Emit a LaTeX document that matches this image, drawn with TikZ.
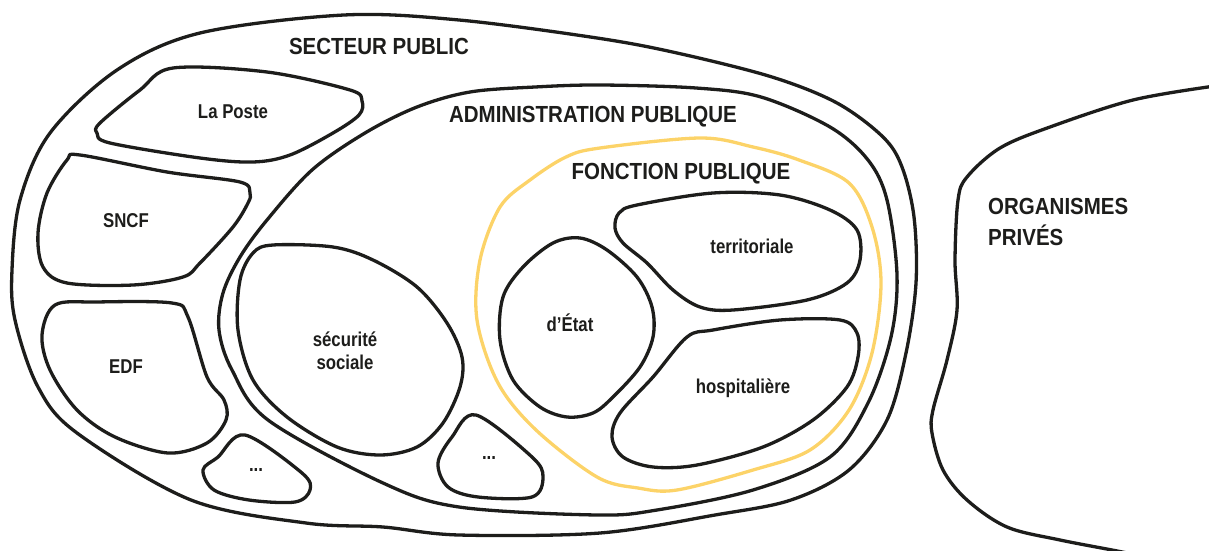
\documentclass[tikz,border=0pt]{standalone}
\usepackage{fontspec}
\setmainfont{Liberation Sans}[FakeStretch=0.88]
\newfontfamily\labelfont{Liberation Sans}[FakeStretch=0.84]
\definecolor{ink}{RGB}{29,29,27}
\definecolor{gold}{RGB}{252,211,104}
\begin{document}
\begin{tikzpicture}[x=1pt,y=-1pt,
  blob/.style={draw=ink,line width=3.3pt,line join=round},
  goldblob/.style={draw=gold,line width=3.3pt,line join=round},
  title/.style={text=ink,font=\bfseries\fontsize{23.3}{27}\selectfont,inner sep=0pt},
  lbl/.style={text=ink,font=\labelfont\bfseries\fontsize{20}{24}\selectfont,inner sep=0pt,align=center}]
\useasboundingbox (0,0) rectangle (1209,551);
\begin{scope}
\clip (0,0) rectangle (1209,551);
% SECTEUR PUBLIC
\draw[blob] plot[smooth cycle,tension=0.55] coordinates {
(344,15) (459,20) (597,38) (677,53) (772,77) (837,103) (883,137) (902,167) (914,217) (916,283) (906,353) (887,420) (849,470) (791,500) (715,515) (600,533) (459,535) (383,527) (306,523) (191,500) (77,433) (38,387) (15,320) (12,270) (20,200) (50,133) (117,70) (200,33)};
% ADMINISTRATION PUBLIQUE
\draw[blob] plot[smooth cycle,tension=0.55] coordinates {
(600,85) (696,88) (761,97) (830,127) (868,160) (887,200) (897,275) (891,337) (868,403) (830,457) (753,490) (657,510) (597,515) (459,507) (383,483) (268,420) (232,370) (219,330) (223,293) (240,257) (267,220) (312,170) (365,133) (417,107) (470,92) (535,87)};
% FONCTION PUBLIQUE
\draw[goldblob] plot[smooth cycle,tension=0.55] coordinates {
(600,148) (700,138) (753,147) (799,160) (849,183) (872,227) (881,283) (872,353) (849,410) (810,450) (753,470) (677,490) (638,488) (597,477) (536,430) (498,383) (477,320) (480,260) (500,207) (530,180) (566,157)};
% La Poste
\draw[blob] plot[smooth cycle,tension=0.55] coordinates {
(173,68) (267,72) (350,90) (362,101) (359,115) (333,133) (290,155) (253,162) (200,158) (110,143) (97,133) (100,123) (140,90)};
% SNCF
\draw[blob] plot[smooth cycle,tension=0.55] coordinates {
(80,155) (167,172) (240,182) (250,193) (248,203) (233,227) (200,263) (183,277) (133,285) (67,283) (43,267) (38,233) (47,193) (67,160)};
% EDF
\draw[blob] plot[smooth cycle,tension=0.55] coordinates {
(55,305) (96,302) (172,303) (188,317) (207,377) (224,400) (226,420) (207,443) (168,453) (115,437) (77,410) (50,370) (42,335)};
% ... 1
\draw[blob] plot[smooth cycle,tension=0.55] coordinates {
(245,435) (302,473) (310,490) (295,502) (249,500) (214,490) (203,470) (218,457)};
% ... 2
\draw[blob] plot[smooth cycle,tension=0.55] coordinates {
(476,415) (532,457) (543,477) (532,497) (478,497) (448,487) (438,463) (452,437)};
% securite sociale
\draw[blob] plot[smooth cycle,tension=0.55] coordinates {
(273,245) (333,247) (373,260) (417,287) (447,323) (462,357) (460,387) (443,423) (417,447) (380,455) (337,447) (287,417) (253,380) (238,330) (240,280) (253,253)};
% d'Etat
\draw[blob] plot[smooth cycle,tension=0.55] coordinates {
(580,238) (607,250) (637,277) (652,307) (653,337) (640,367) (613,397) (593,413) (567,417) (540,407) (513,380) (500,340) (503,297) (523,267) (553,243)};
% territoriale
\draw[blob] plot[smooth cycle,tension=0.55] coordinates {
(637,205) (713,193) (780,195) (830,210) (857,230) (860,260) (847,283) (807,300) (733,310) (700,307) (673,290) (647,263) (623,243) (615,228) (619,213)};
% hospitaliere
\draw[blob] plot[smooth cycle,tension=0.55] coordinates {
(687,337) (713,330) (780,320) (840,320) (857,333) (858,357) (847,387) (813,420) (763,447) (697,465) (653,467) (623,457) (612,437) (620,413) (653,377)};
% ORGANISMES PRIVES
\draw[blob] plot[smooth,tension=0.55] coordinates {
(1215,86) (1133,100) (1050,127) (1000,148) (967,177) (958,200) (955,260) (957,310) (947,360) (933,410) (932,433) (943,470) (967,500) (1007,527) (1060,540) (1127,553) (1150,560)};
\end{scope}
% labels
\node[title] (sp) at (379,46) {SECTEUR PUBLIC};
\node[title] (ap) at (593,117) {ADMINISTRATION PUBLIQUE};
\node[title] (fp) at (681,174) {FONCTION PUBLIQUE};
\node[title,anchor=west] (op1) at (988,206) {ORGANISMES};
\node[title,anchor=west] (op2) at (988,235) {PRIVÉS};
\node[lbl] (lp) at (233,112) {La Poste};
\node[lbl] (sncf) at (126,221) {SNCF};
\node[lbl] (edf) at (126,367) {EDF};
\node[lbl] (d1) at (256,470) {...};
\node[lbl] (d2) at (489,458) {...};
\node[lbl] (ss1) at (345,339) {sécurité};
\node[lbl] (ss2) at (345,362) {sociale};
\node[lbl] (et) at (570,323) {d’État};
\node[lbl] (ter) at (752,246) {territoriale};
\node[lbl] (hos) at (743,388) {hospitalière};
\end{tikzpicture}
\end{document}
